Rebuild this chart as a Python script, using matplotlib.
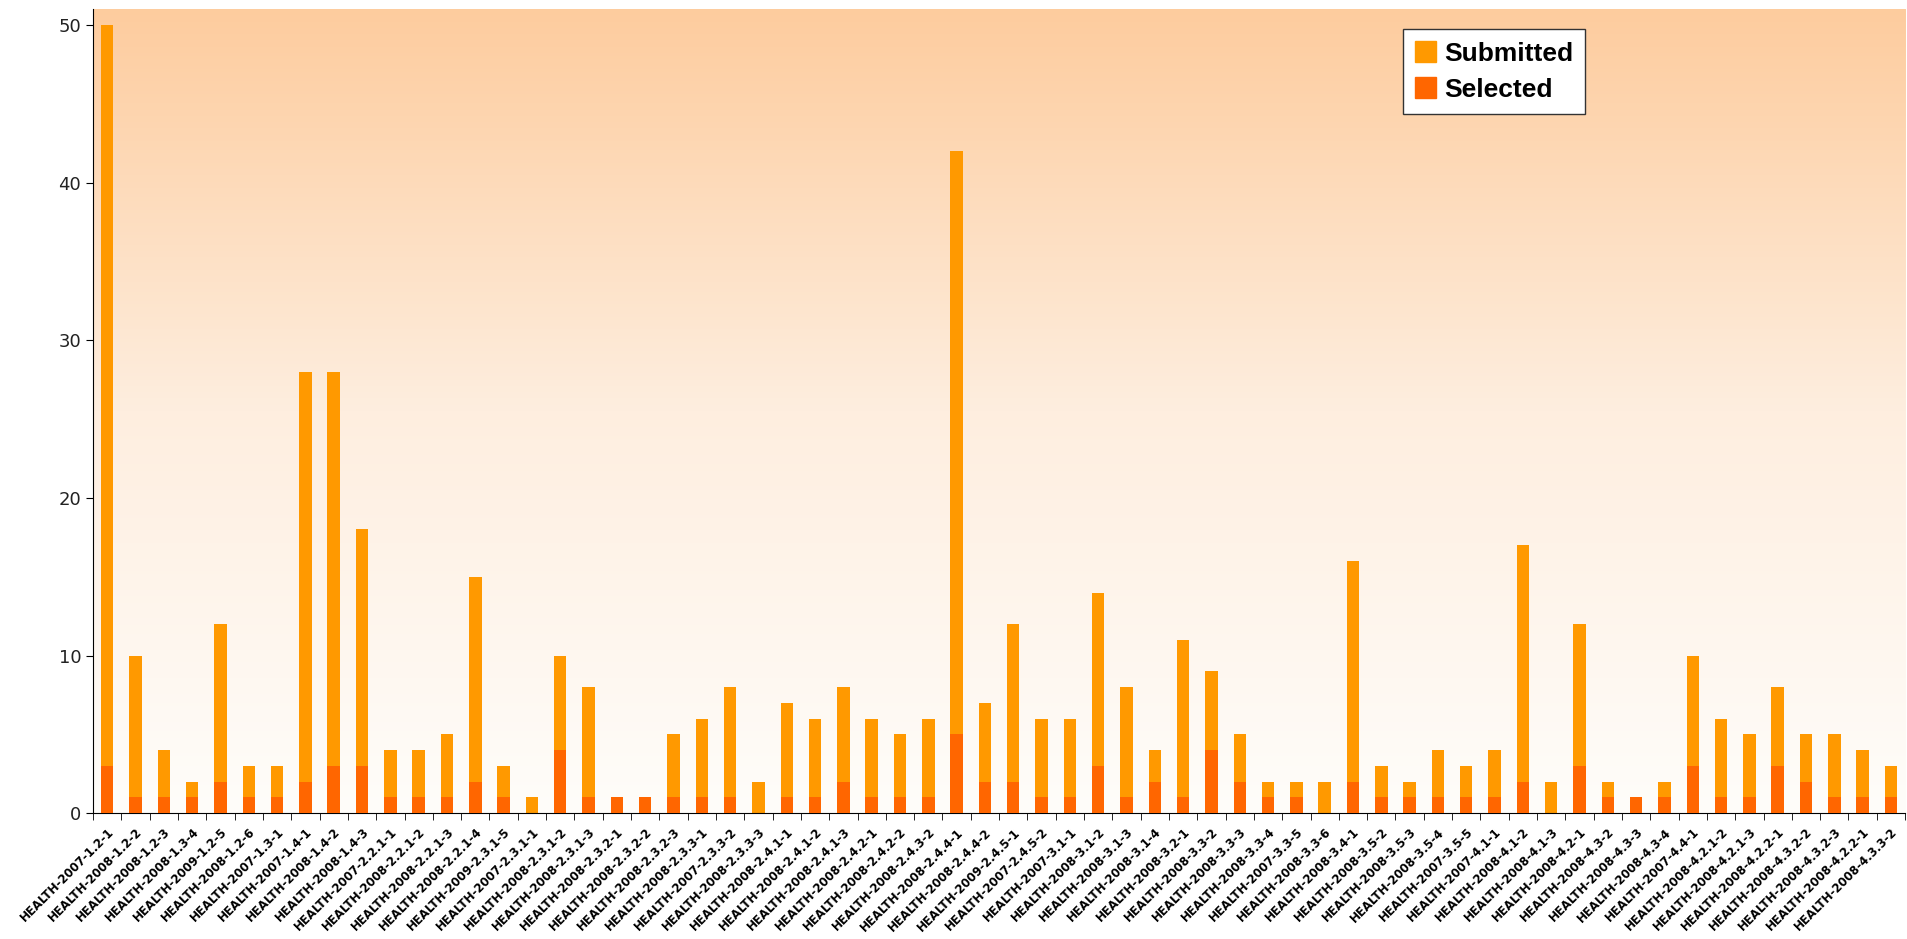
import numpy as np
import matplotlib.pyplot as plt
from matplotlib.colors import LinearSegmentedColormap
from matplotlib.patches import Patch

topics = [
    'HEALTH-2007-1.2-1', 'HEALTH-2008-1.2-2', 'HEALTH-2008-1.2-3', 'HEALTH-2008-1.3-4',
    'HEALTH-2009-1.2-5', 'HEALTH-2008-1.2-6', 'HEALTH-2007-1.3-1', 'HEALTH-2007-1.4-1',
    'HEALTH-2008-1.4-2', 'HEALTH-2008-1.4-3', 'HEALTH-2007-2.2.1-1', 'HEALTH-2008-2.2.1-2',
    'HEALTH-2008-2.2.1-3', 'HEALTH-2008-2.2.1-4', 'HEALTH-2009-2.3.1-5', 'HEALTH-2007-2.3.1-1',
    'HEALTH-2008-2.3.1-2', 'HEALTH-2008-2.3.1-3', 'HEALTH-2008-2.3.2-1', 'HEALTH-2008-2.3.2-2',
    'HEALTH-2008-2.3.2-3', 'HEALTH-2008-2.3.3-1', 'HEALTH-2007-2.3.3-2', 'HEALTH-2008-2.3.3-3',
    'HEALTH-2008-2.4.1-1', 'HEALTH-2008-2.4.1-2', 'HEALTH-2008-2.4.1-3', 'HEALTH-2008-2.4.2-1',
    'HEALTH-2008-2.4.2-2', 'HEALTH-2008-2.4.3-2', 'HEALTH-2008-2.4.4-1', 'HEALTH-2008-2.4.4-2',
    'HEALTH-2009-2.4.5-1', 'HEALTH-2007-2.4.5-2', 'HEALTH-2007-3.1-1', 'HEALTH-2008-3.1-2',
    'HEALTH-2008-3.1-3', 'HEALTH-2008-3.1-4', 'HEALTH-2008-3.2-1', 'HEALTH-2008-3.3-2',
    'HEALTH-2008-3.3-3', 'HEALTH-2008-3.3-4', 'HEALTH-2007-3.3-5', 'HEALTH-2008-3.3-6',
    'HEALTH-2008-3.4-1', 'HEALTH-2008-3.5-2', 'HEALTH-2008-3.5-3', 'HEALTH-2008-3.5-4',
    'HEALTH-2007-3.5-5', 'HEALTH-2007-4.1-1', 'HEALTH-2008-4.1-2', 'HEALTH-2008-4.1-3',
    'HEALTH-2008-4.2-1', 'HEALTH-2008-4.3-2', 'HEALTH-2008-4.3-3', 'HEALTH-2008-4.3-4',
    'HEALTH-2007-4.4-1', 'HEALTH-2008-4.2.1-2', 'HEALTH-2008-4.2.1-3', 'HEALTH-2008-4.2.2-1',
    'HEALTH-2008-4.3.2-2', 'HEALTH-2008-4.3.2-3', 'HEALTH-2008-4.2.2-1', 'HEALTH-2008-4.3.3-2',
]

submitted = [50, 10, 4, 2, 12, 3, 3, 28, 28, 18, 4, 4, 5, 15, 3, 1,
             10, 8, 1, 1, 5, 6, 8, 2, 7, 6, 8, 6, 5, 6, 42, 7,
             12, 6, 6, 14, 8, 4, 11, 9, 5, 2, 2, 2, 16, 3, 2, 4,
             3, 4, 17, 2, 12, 2, 1, 2, 10, 6, 5, 8, 5, 5, 4, 3]

selected = [3, 1, 1, 1, 2, 1, 1, 2, 3, 3, 1, 1, 1, 2, 1, 0,
            4, 1, 1, 1, 1, 1, 1, 0, 1, 1, 2, 1, 1, 1, 5, 2,
            2, 1, 1, 3, 1, 2, 1, 4, 2, 1, 1, 0, 2, 1, 1, 1,
            1, 1, 2, 0, 3, 1, 1, 1, 3, 1, 1, 3, 2, 1, 1, 1]

col_sub = '#FF9900'
col_sel = '#FF6600'

fig = plt.figure(figsize=(19.07, 9.39), dpi=100)
ax = fig.add_axes([0.0488, 0.134, 0.9502, 0.856])

# peach-to-white background gradient
cmap = LinearSegmentedColormap.from_list('bg', ['#FFFDFA', '#FEEEDF', '#FDCC9E'])
grad = np.linspace(0, 1, 256).reshape(-1, 1)
ax.imshow(grad, cmap=cmap, origin='lower', aspect='auto',
          extent=[0, 1, 0, 1], transform=ax.transAxes, zorder=0)

x = np.arange(len(topics))
ax.bar(x, submitted, width=0.44, color=col_sub, zorder=2)
ax.bar(x, selected, width=0.44, color=col_sel, zorder=3)

ax.set_xlim(-0.5, len(topics) - 0.55)
ax.set_ylim(0, 51)
ax.set_yticks(range(0, 51, 10))
ax.tick_params(axis='y', labelsize=13, labelcolor='#222222', length=5, direction='out')

ax.set_xticks(x)
ax.set_xticklabels(topics, rotation=45, ha='right', va='top', rotation_mode='anchor',
                   fontsize=8.5, fontweight='bold')
ax.tick_params(axis='x', which='major', length=0, pad=9)
ax.set_xticks(np.arange(-0.5, len(topics), 1), minor=True)
ax.tick_params(axis='x', which='minor', length=5, direction='out')

for s in ['top', 'right']:
    ax.spines[s].set_visible(False)
ax.spines['left'].set_color('black')
ax.spines['bottom'].set_color('black')

handles = [Patch(color=col_sub, label='Submitted'), Patch(color=col_sel, label='Selected')]
leg = ax.legend(handles=handles, loc='upper left', bbox_to_anchor=(0.723, 0.975),
                borderaxespad=0, fancybox=False, framealpha=1, edgecolor='#333333',
                prop={'family': 'Liberation Sans', 'weight': 'bold', 'size': 19},
                handlelength=0.8, handleheight=0.8, handletextpad=0.3, labelspacing=0.45,
                borderpad=0.45)
leg.get_frame().set_linewidth(1.0)

fig.savefig('out.png', dpi=100)
